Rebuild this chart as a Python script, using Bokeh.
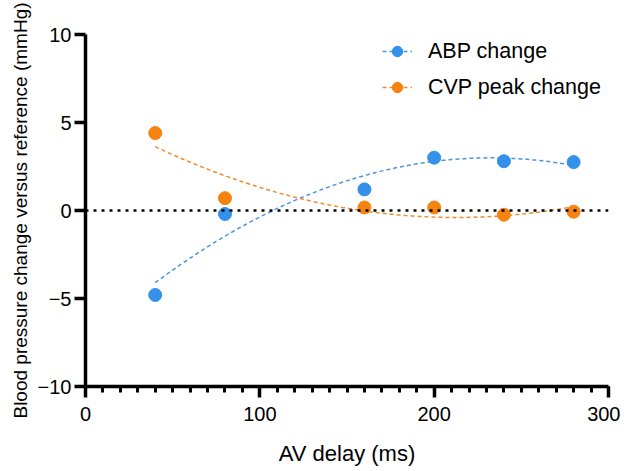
import numpy as np
from bokeh.plotting import figure
from bokeh.models import Range1d, SingleIntervalTicker, Span, Legend, LegendItem
from bokeh.embed import file_html
from bokeh.resources import INLINE

# ---- data ----
av_delay = [40, 80, 160, 200, 240, 280]
abp_change = [-4.8, -0.2, 1.2, 3.0, 2.8, 2.75]
cvp_change = [4.4, 0.7, 0.17, 0.17, -0.24, -0.07]
x_ticks = [0, 100, 200, 300]
y_ticks = [-10, -5, 0, 5, 10]

BLUE = "#3391E9"
ORANGE = "#F7820F"
BLUE_L = "#4A95DE"
ORANGE_L = "#F08A2A"
FONT = "Liberation Sans"

p = figure(width=620, height=468, output_backend="svg", toolbar_location=None,
           x_range=Range1d(0, 300), y_range=Range1d(-10, 10),
           min_border_left=85, min_border_right=12, min_border_top=34, min_border_bottom=78)
p.outline_line_color = None
p.xgrid.grid_line_color = None
p.ygrid.grid_line_color = None

# axes
p.xaxis.ticker = SingleIntervalTicker(interval=100, num_minor_ticks=10)
p.yaxis.ticker = SingleIntervalTicker(interval=5, num_minor_ticks=0)
for ax in (p.xaxis[0], p.yaxis[0]):
    ax.axis_line_width = 3.5
    ax.axis_line_color = "black"
    ax.major_tick_line_width = 3.5
    ax.major_tick_line_color = "black"
    ax.minor_tick_line_width = 3
    ax.major_tick_in = 0
    ax.minor_tick_in = 0
    ax.major_tick_out = 11
    ax.minor_tick_out = 6
    ax.major_label_text_font = FONT
    ax.major_label_text_font_size = "20px"
    ax.major_label_text_color = "black"
    ax.axis_label_text_font = FONT
    ax.axis_label_text_font_style = "normal"
    ax.axis_label_text_color = "black"
p.yaxis.minor_tick_line_color = None
p.xaxis.minor_tick_line_color = "black"
p.xaxis.major_label_standoff = 9
p.yaxis.major_label_standoff = 3
p.xaxis.axis_label = "AV delay (ms)"
p.xaxis.axis_label_text_font_size = "22px"
p.xaxis.axis_label_standoff = 17
p.yaxis.axis_label = "Blood pressure change versus reference (mmHg)"
p.yaxis.axis_label_text_font_size = "19px"
p.yaxis.axis_label_standoff = 4

# zero line
p.add_layout(Span(location=0, dimension="width", line_color="black",
                  line_width=2.5, line_dash="3 5"))

# quadratic fits
xs = np.linspace(min(av_delay), max(av_delay), 200)
abp_fit = np.polyval(np.polyfit(av_delay, abp_change, 2), xs)
cvp_fit = np.polyval(np.polyfit(av_delay, cvp_change, 2), xs)

l1 = p.line(xs, abp_fit, line_color=BLUE_L, line_width=1.5, line_dash="4 3")
l2 = p.line(xs, cvp_fit, line_color=ORANGE_L, line_width=1.5, line_dash="4 3")
s1 = p.scatter(av_delay, abp_change, size=13, fill_color=BLUE, line_color=BLUE)
s2 = p.scatter(av_delay, cvp_change, size=13, fill_color=ORANGE, line_color=ORANGE)

legend = Legend(items=[LegendItem(label="ABP change", renderers=[l1, s1]),
                       LegendItem(label="CVP peak change", renderers=[l2, s2])],
                location=(297, 286), padding=0, margin=0, spacing=10,
                glyph_width=30, glyph_height=26, label_height=26, label_standoff=16,
                label_text_font=FONT, label_text_font_size="21.5px",
                label_text_color="black", border_line_color=None,
                background_fill_alpha=0)
p.add_layout(legend)

open("out.html", "w").write(file_html(p, INLINE))
